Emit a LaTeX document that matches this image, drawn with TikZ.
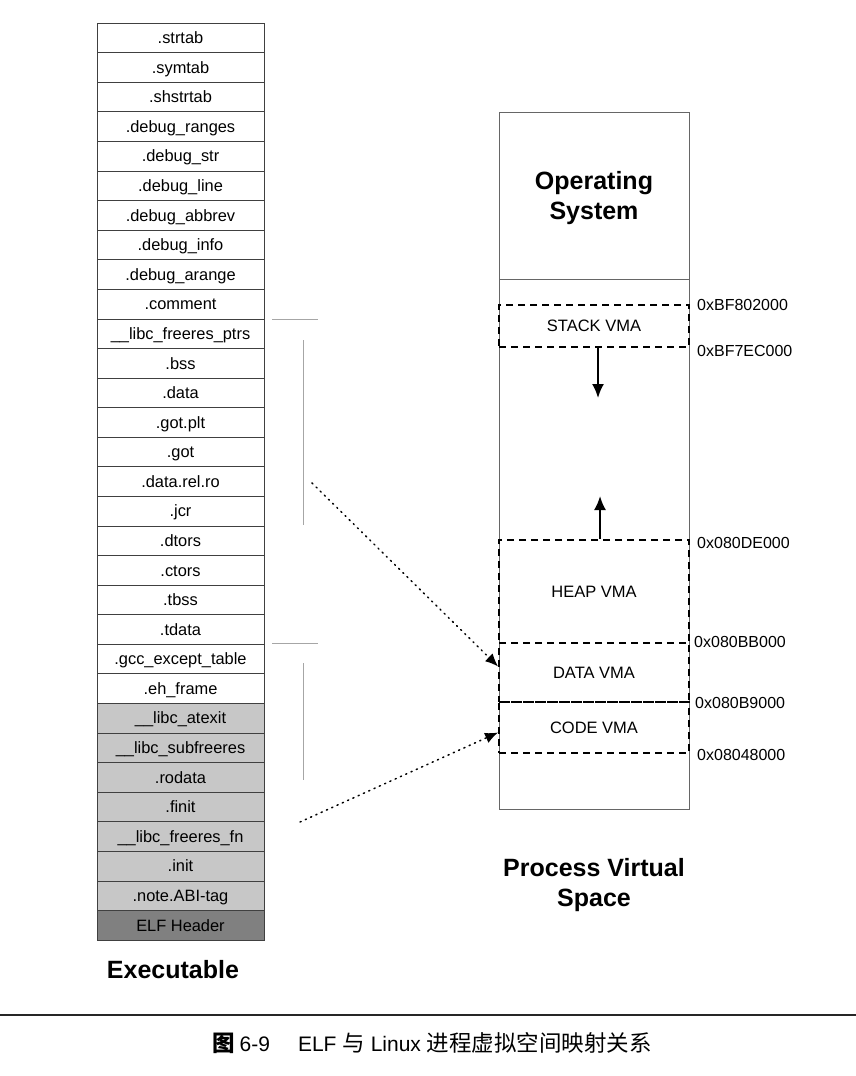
\documentclass[tikz,border=0pt]{standalone}
\usepackage{fontspec}
\setmainfont{Liberation Sans}
\newfontfamily\cjk{Noto Sans CJK SC}
\usetikzlibrary{arrows.meta}
\begin{document}
\begin{tikzpicture}[x=1pt,y=-1pt,
  sec/.style={draw=black!75,line width=0.6pt,minimum width=167pt,minimum height=29.58pt,inner sep=0pt,text height=13.5pt,text depth=1.8pt,font=\fontsize{16.4}{18}\selectfont},
  shadeA/.style={sec,fill=black!22},
  shadeB/.style={sec,fill=black!50},
  vma/.style={draw=black,line width=1.8pt,dash pattern=on 7pt off 5pt,minimum width=190pt,inner sep=0pt,font=\fontsize{16.5}{18}\selectfont},
  addr/.style={anchor=west,inner sep=0pt,font=\fontsize{16}{18}\selectfont},
  bigtitle/.style={align=center,font=\fontsize{25}{30}\selectfont\bfseries},
  faintline/.style={draw=black!35,line width=0.5pt},
  maparrow/.style={line width=1.5pt,dash pattern=on 1.2pt off 4.6pt,line cap=round,-{Latex[length=13pt,width=11pt]}},
  growarrow/.style={line width=2pt,-{Latex[length=14pt,width=12pt]}}]
\useasboundingbox (0,0) rectangle (856,1076);
% executable sections
\foreach [count=\i] \t in {.strtab,.symtab,.shstrtab,.debug\_ranges,.debug\_str,.debug\_line,.debug\_abbrev,.debug\_info,.debug\_arange,.comment,\_\_libc\_freeres\_ptrs,.bss,.data,.got.plt,.got,.data.rel.ro,.jcr,.dtors,.ctors,.tbss,.tdata,.gcc\_except\_table,.eh\_frame}
  \node[sec] (r\i) at (180.5,{23+(\i-0.5)*29.58}) {\t};
\foreach [count=\i from 24] \t in {\_\_libc\_atexit,\_\_libc\_subfreeres,.rodata,.finit,\_\_libc\_freeres\_fn,.init,.note.ABI-tag}
  \node[shadeA] (r\i) at (180.5,{23+(\i-0.5)*29.58}) {\t};
\node[shadeB] (r31) at (180.5,{23+30.5*29.58}) {ELF Header};
\node[bigtitle] (exe) at (173,970) {Executable};
% faint segment marks
\draw[faintline] (272,319) -- (318,319);
\draw[faintline] (303,340) -- (303,525);
\draw[faintline] (272,643) -- (318,643);
\draw[faintline] (303,663) -- (303,780);
% process virtual space
\node[draw=black!60,line width=0.6pt,minimum width=190pt,minimum height=697pt,inner sep=0pt] (pvs) at (594,460.5) {};
\node[draw=black!60,line width=0.6pt,minimum width=190pt,minimum height=167pt,inner sep=0pt] (os) at (594,195.5) {};
\node[bigtitle] (ost) at (594,198) {Operating\\System};
\node[vma,minimum height=42pt] (stack) at (594,326) {STACK VMA};
\node[vma,minimum height=103pt] (heap) at (594,591.5) {HEAP VMA};
\node[vma,minimum height=59pt] (data) at (594,672.5) {DATA VMA};
\node[vma,minimum height=51pt] (code) at (594,727.5) {CODE VMA};
\node[addr] (a1) at (697,305) {0xBF802000};
\node[addr] (a2) at (697,351) {0xBF7EC000};
\node[addr] (a3) at (697,543) {0x080DE000};
\node[addr] (a4) at (694,642) {0x080BB000};
\node[addr] (a5) at (695,703) {0x080B9000};
\node[addr] (a6) at (697,755) {0x08048000};
\coordinate (sdown) at (598,398);
\coordinate (hup) at (600,496);
\draw[growarrow] (stack.south -| sdown) -- (sdown);
\draw[growarrow] (heap.north -| hup) -- (hup);
\node[bigtitle] (pvst) at (594,885) {Process Virtual\\Space};
% mapping arrows
\coordinate (m1) at (312,483);
\coordinate (m2) at (300,822);
\draw[maparrow] (m1) -- ([yshift=6pt]data.west);
\draw[maparrow] (m2) -- ([yshift=-5pt]code.west);
% caption
\draw[line width=1.4pt,black!85] (0,1015) -- (856,1015);
\node[font=\fontsize{21}{24}\selectfont] (cap) at (432,1043) {{\cjk\fontsize{22.5}{24}\selectfont\bfseries 图}\hspace{5pt}6-9\hspace{28pt}ELF {\cjk\fontsize{22.5}{24}\selectfont 与} Linux {\cjk\fontsize{22.5}{24}\selectfont 进程虚拟空间映射关系}};
\end{tikzpicture}
\end{document}
